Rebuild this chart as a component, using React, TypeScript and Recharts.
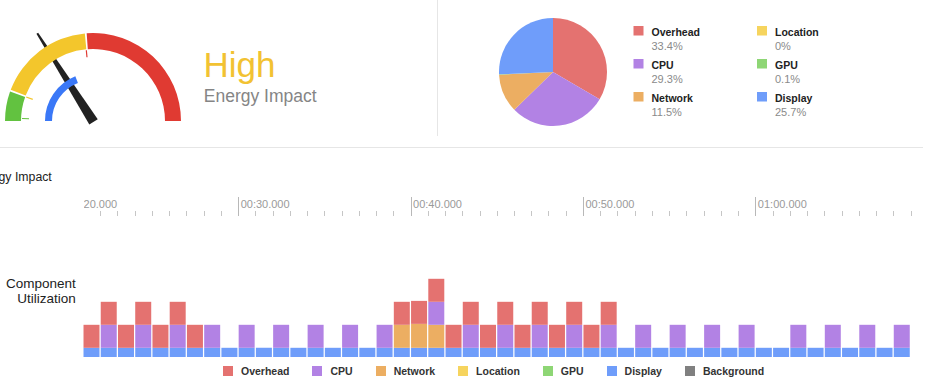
import React from 'react';
import { PieChart, Pie, Cell, BarChart, Bar, XAxis, YAxis } from 'recharts';

const FONT = '"Liberation Sans", Arial, Helvetica, sans-serif';

// ---------- Gauge ----------
const gaugeBandNames = ['Low', 'Medium', 'High'];
const gaugeBandValues = [11, 36, 53];
const gaugeBandColors = ['#62C240', '#F3C62C', '#E03A32'];
const gaugeMax = 100;
const gaugeCurrent = 38;
const gaugeNeedle = 32;
const impactLabel = 'High';
const impactSubtitle = 'Energy Impact';

// ---------- Composition pie ----------
const pieNames = ['Overhead', 'CPU', 'Network', 'Location', 'GPU', 'Display'];
const pieShares = [33.4, 29.3, 11.5, 0, 0.1, 25.7];
const pieShareLabels = ['33.4%', '29.3%', '11.5%', '0%', '0.1%', '25.7%'];
const pieColors = ['#E47270', '#B282E4', '#ECAE62', '#F6D45E', '#8ED675', '#6F9DFA'];

// ---------- Timeline ----------
const seconds = [21, 22, 23, 24, 25, 26, 27, 28, 29, 30, 31, 32, 33, 34, 35, 36, 37, 38, 39, 40, 41, 42, 43, 44, 45, 46, 47, 48, 49, 50, 51, 52, 53, 54, 55, 56, 57, 58, 59, 60, 61, 62, 63, 64, 65, 66, 67, 68];
const displayVals = [0.4, 0.4, 0.4, 0.4, 0.4, 0.4, 0.4, 0.4, 0.4, 0.4, 0.4, 0.4, 0.4, 0.4, 0.4, 0.4, 0.4, 0.4, 0.4, 0.4, 0.4, 0.4, 0.4, 0.4, 0.4, 0.4, 0.4, 0.4, 0.4, 0.4, 0.4, 0.4, 0.4, 0.4, 0.4, 0.4, 0.4, 0.4, 0.4, 0.4, 0.4, 0.4, 0.4, 0.4, 0.4, 0.4, 0.4, 0.4];
const networkVals = [0, 0, 0, 0, 0, 0, 0, 0, 0, 0, 0, 0, 0, 0, 0, 0, 0, 0, 1, 1.04, 1, 0, 0, 0, 0, 0, 0, 0, 0, 0, 0, 0, 0, 0, 0, 0, 0, 0, 0, 0, 0, 0, 0, 0, 0, 0, 0, 0];
const cpuVals = [0, 1, 0, 1, 0, 1, 0, 1, 0, 1, 0, 1, 0, 1, 0, 1, 0, 1, 0, 0, 1, 0, 1, 0, 1, 0, 1, 0, 1, 0, 1, 0, 1, 0, 1, 0, 1, 0, 1, 0, 0, 1, 0, 1, 0, 1, 0, 1];
const overheadVals = [1, 1, 1, 1, 1, 1, 1, 0, 0, 0, 0, 0, 0, 0, 0, 0, 0, 0, 1, 1, 1, 1, 1, 1, 1, 1, 1, 1, 1, 1, 1, 0, 0, 0, 0, 0, 0, 0, 0, 0, 0, 0, 0, 0, 0, 0, 0, 0];
const timeTicks = [...seconds, 69];
const legendNames = ['Overhead', 'CPU', 'Network', 'Location', 'GPU', 'Display', 'Background'];
const legendColors = ['#E47270', '#B282E4', '#ECAE62', '#F6D45E', '#8ED675', '#6F9DFA', '#808080'];

const barData = seconds.map((s, i) => ({
  sec: s,
  Display: displayVals[i],
  Network: networkVals[i],
  CPU: cpuVals[i],
  Overhead: overheadVals[i],
}));
const gaugeData = gaugeBandNames.map((n, i) => ({ name: n, value: gaugeBandValues[i] }));
const gaugeCurrentData = [
  { name: 'current', value: gaugeCurrent },
  { name: 'rest', value: gaugeMax - gaugeCurrent },
];
const pieData = pieNames.map((n, i) => ({ name: n, value: pieShares[i] }));

// layout
const CH_W = 943;
const CH_H = 387;
const M_LEFT = 83;
const M_RIGHT = 32.5;
const M_TOP = 196;
const M_BOTTOM = 30;
const AXIS_H = 20;
const Y_MAX = 6.13;
const T_MIN = 21;
const T_MAX = 69;
const PX_PER_SEC = (CH_W - M_LEFT - M_RIGHT) / (T_MAX - T_MIN);

const GX = 93;
const GY = 121;

const pad2 = (n: number) => (n < 10 ? '0' + n : '' + n);
const fmtTime = (v: number) => `${pad2(Math.floor(v / 60))}:${pad2(v % 60)}.000`;

const TimeTick = (props: any) => {
  const { x, y, payload } = props;
  const v = payload.value;
  const px = Math.round(x) + 0.5;
  if (v % 10 === 0) {
    return (
      <g>
        <line x1={px} x2={px} y1={y - 19} y2={y} stroke="#b8b8b8" strokeWidth={1} />
        <text x={x + 2.5} y={y - 8} fontSize={11} fill="#9a9a9a" fontFamily={FONT}>
          {fmtTime(v)}
        </text>
      </g>
    );
  }
  if (v === T_MIN) {
    const prevMajor = Math.floor(v / 10) * 10;
    const lx = x - (v - prevMajor) * PX_PER_SEC + 2.5;
    return (
      <g>
        <defs>
          <clipPath id="timeClip">
            <rect x={x + 1} y={y - 40} width={200} height={50} />
          </clipPath>
        </defs>
        <text x={lx} y={y - 8} fontSize={11} fill="#9a9a9a" fontFamily={FONT} clipPath="url(#timeClip)">
          {fmtTime(prevMajor)}
        </text>
      </g>
    );
  }
  return <line x1={px} x2={px} y1={y - 5} y2={y} stroke="#c6c6c6" strokeWidth={1} />;
};

const angleOf = (v: number) => 180 - (v / gaugeMax) * 180;
const polar = (r: number, deg: number) => {
  const a = (deg * Math.PI) / 180;
  return [GX + r * Math.cos(a), GY - r * Math.sin(a)];
};

const Needle = () => {
  const deg = angleOf(gaugeNeedle);
  const a = (deg * Math.PI) / 180;
  const dx = Math.cos(a);
  const dy = -Math.sin(a);
  const px = -dy;
  const py = dx;
  const L = 104;
  const bw = 5;
  const tw = 1;
  const bx = GX - 1 * dx;
  const by = GY - 1 * dy;
  const tx = GX + L * dx;
  const ty = GY + L * dy;
  const pts = [
    [bx + bw * px, by + bw * py],
    [tx + tw * px, ty + tw * py],
    [tx - tw * px, ty - tw * py],
    [bx - bw * px, by - bw * py],
  ]
    .map((p) => p.join(','))
    .join(' ');
  return <polygon points={pts} fill="#222" />;
};

const Notches = () => {
  let cum = 0;
  return (
    <g>
      {gaugeBandValues.map((v, i) => {
        const deg = angleOf(cum);
        cum += v;
        const [x1, y1] = polar(64, deg - (i === 0 ? 2 : 0));
        const [x2, y2] = polar(71, deg - (i === 0 ? 2 : 0));
        return <line key={i} x1={x1} y1={y1} x2={x2} y2={y2} stroke={gaugeBandColors[i]} strokeWidth={1.2} />;
      })}
    </g>
  );
};

export default function App() {
  return (
    <div
      style={{
        position: 'fixed',
        left: 0,
        top: 0,
        width: CH_W,
        height: CH_H,
        overflow: 'hidden',
        background: '#fff',
        fontFamily: FONT,
      }}
    >
      {/* timeline bars */}
      <div style={{ position: 'absolute', left: 0, top: 0 }}>
        <BarChart
          width={CH_W}
          height={CH_H}
          data={barData}
          margin={{ top: M_TOP, right: M_RIGHT, bottom: M_BOTTOM, left: M_LEFT }}
          barCategoryGap={0.5}
        >
          <XAxis xAxisId="cat" dataKey="sec" hide />
          <XAxis
            xAxisId="time"
            dataKey="sec"
            type="number"
            orientation="top"
            domain={[T_MIN, T_MAX]}
            allowDataOverflow
            ticks={timeTicks}
            interval={0}
            height={AXIS_H}
            tickSize={0}
            tickMargin={0}
            axisLine={false}
            tickLine={false}
            tick={<TimeTick />}
          />
          <YAxis hide domain={[0, Y_MAX]} allowDataOverflow />
          <Bar xAxisId="cat" dataKey="Display" stackId="u" fill={legendColors[5]} isAnimationActive={false} />
          <Bar xAxisId="cat" dataKey="Network" stackId="u" fill={legendColors[2]} isAnimationActive={false} />
          <Bar xAxisId="cat" dataKey="CPU" stackId="u" fill={legendColors[1]} isAnimationActive={false} />
          <Bar xAxisId="cat" dataKey="Overhead" stackId="u" fill={legendColors[0]} isAnimationActive={false} />
        </BarChart>
      </div>

      {/* gauge */}
      <div style={{ position: 'absolute', left: 0, top: 0 }}>
        <PieChart width={200} height={140} margin={{ top: 0, right: 0, bottom: 0, left: 0 }}>
          <Pie
            data={gaugeData}
            dataKey="value"
            cx={GX}
            cy={GY}
            startAngle={180}
            endAngle={0}
            innerRadius={72}
            outerRadius={88}
            paddingAngle={1.2}
            stroke="none"
            isAnimationActive={false}
          >
            {gaugeData.map((d, i) => (
              <Cell key={d.name} fill={gaugeBandColors[i]} />
            ))}
          </Pie>
          <Pie
            data={gaugeCurrentData}
            dataKey="value"
            cx={GX}
            cy={GY}
            startAngle={180}
            endAngle={0}
            innerRadius={41}
            outerRadius={48}
            stroke="none"
            isAnimationActive={false}
          >
            <Cell fill="#3A78F7" />
            <Cell fill="transparent" />
          </Pie>
          <Notches />
          <Needle />
        </PieChart>
      </div>

      {/* composition pie */}
      <div style={{ position: 'absolute', left: 493, top: 12 }}>
        <PieChart width={120} height={120} margin={{ top: 0, right: 0, bottom: 0, left: 0 }}>
          <Pie
            data={pieData}
            dataKey="value"
            cx={60}
            cy={60}
            startAngle={90}
            endAngle={-270}
            outerRadius={54}
            stroke="none"
            isAnimationActive={false}
          >
            {pieData.map((d, i) => (
              <Cell key={d.name} fill={pieColors[i]} />
            ))}
          </Pie>
        </PieChart>
      </div>

      {/* text overlay */}
      <svg
        width={CH_W}
        height={CH_H}
        style={{ position: 'absolute', left: 0, top: 0, pointerEvents: 'none' }}
      >
        <line x1={437.5} x2={437.5} y1={0} y2={136} stroke="#e6e6e6" strokeWidth={1} />
        <line x1={0} x2={923} y1={147.5} y2={147.5} stroke="#e6e6e6" strokeWidth={1} />
        <text x={203.5} y={77} fontSize={35} fill="#F2C232" fontFamily={FONT}>
          {impactLabel}
        </text>
        <text x={203.8} y={102} fontSize={17.5} fill="#858585" fontFamily={FONT}>
          {impactSubtitle}
        </text>
        {pieNames.map((n, i) => {
          const cx = i < 3 ? 633.5 : 757;
          const base = 35.5 + (i % 3) * 33;
          return (
            <g key={n}>
              <rect x={cx} y={base - 9.5} width={10} height={9.5} fill={pieColors[i]} />
              <text x={cx + 18} y={base} fontSize={10.5} fontWeight="bold" fill="#222" fontFamily={FONT}>
                {n}
              </text>
              <text x={cx + 18} y={base + 14.5} fontSize={11} fill="#8a8a8a" fontFamily={FONT}>
                {pieShareLabels[i]}
              </text>
            </g>
          );
        })}
        <text x={-27.5} y={180.7} fontSize={12.3} fill="#222" fontFamily={FONT}>
          Energy Impact
        </text>
        <text x={75.8} y={288} fontSize={13.5} fill="#222" textAnchor="end" fontFamily={FONT}>
          Component
        </text>
        <text x={75.8} y={303} fontSize={13.5} fill="#222" textAnchor="end" fontFamily={FONT}>
          Utilization
        </text>
      </svg>

      {/* bottom legend */}
      <div
        style={{
          position: 'absolute',
          left: 223,
          top: 365.4,
          display: 'flex',
          alignItems: 'center',
          whiteSpace: 'nowrap',
        }}
      >
        {legendNames.map((n, i) => (
          <div key={n} style={{ display: 'flex', alignItems: 'center', marginRight: 23 }}>
            <div style={{ width: 10, height: 10, background: legendColors[i], marginRight: 8 }} />
            <span style={{ fontSize: 10.5, lineHeight: '12px', fontWeight: 'bold', color: '#333' }}>{n}</span>
          </div>
        ))}
      </div>
    </div>
  );
}
